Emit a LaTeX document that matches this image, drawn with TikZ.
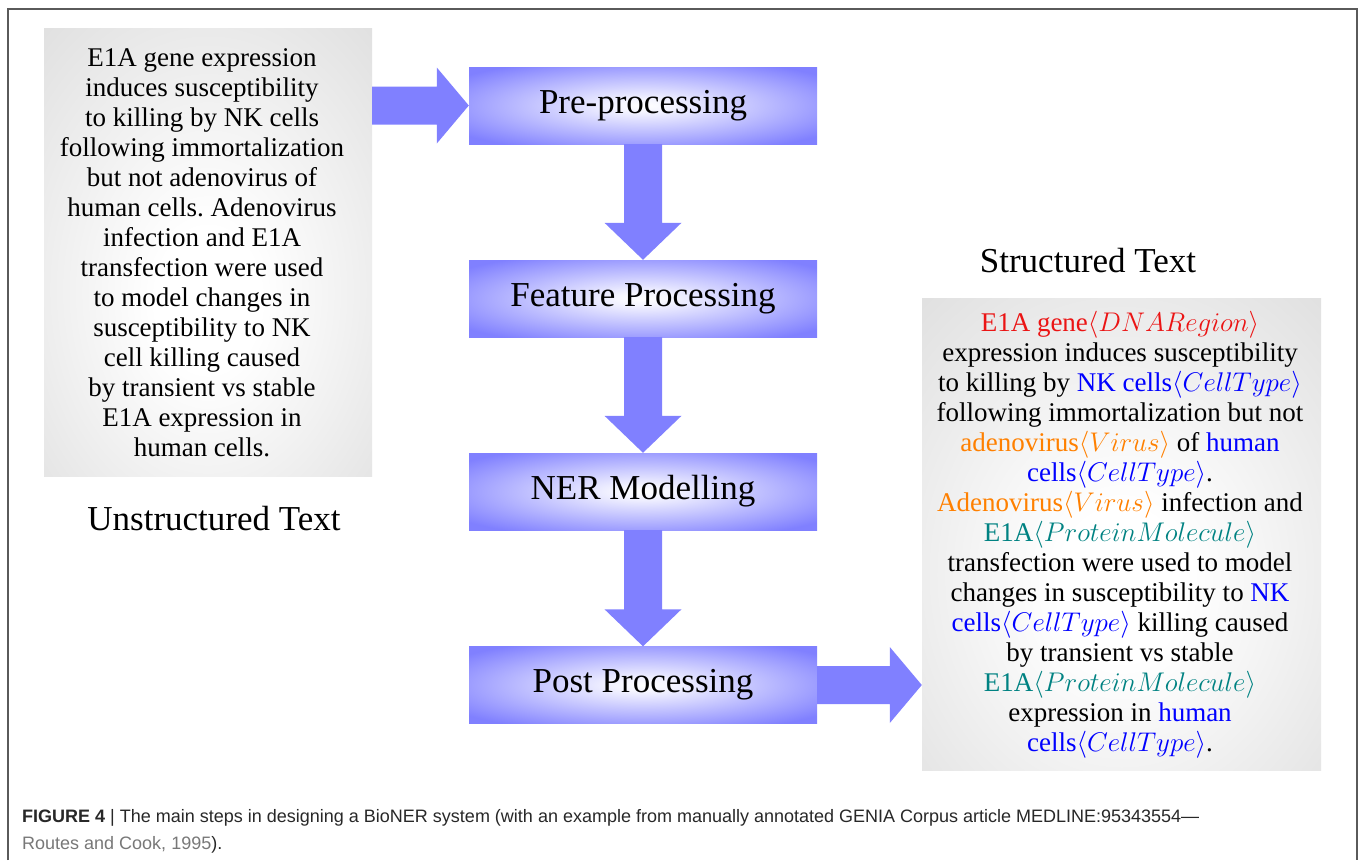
\RequirePackage{fix-cm}
\documentclass[tikz,border=0pt]{standalone}
\usepackage{fontspec}
\setmainfont{Liberation Serif}
\setsansfont{Liberation Sans}
\usetikzlibrary{calc}
\frenchspacing
\definecolor{boxblue}{RGB}{128,128,255}
\definecolor{boxgray}{RGB}{214,214,214}
\definecolor{framegray}{RGB}{90,90,90}
\definecolor{tred}{RGB}{235,20,20}
\definecolor{tblue}{RGB}{0,0,255}
\definecolor{torange}{RGB}{255,128,0}
\definecolor{tteal}{RGB}{0,130,130}
\definecolor{capdark}{RGB}{40,40,40}
\definecolor{caplink}{RGB}{120,120,120}
\pgfdeclareradialshading{blueglow}{\pgfpoint{0bp}{0bp}}{color(0bp)=(white); color(4bp)=(white!92!boxblue); color(32bp)=(boxblue); color(75bp)=(boxblue)}
\pgfdeclareradialshading{grayglow}{\pgfpoint{0bp}{-6bp}}{color(0bp)=(white); color(8bp)=(white); color(48bp)=(boxgray); color(80bp)=(boxgray)}
\newcommand\vflow[2]{%
  \fill[boxblue] ($(#1.south)+(-19,0)$) -- ($(#1.south)+(19,0)$) -- ($(#2.north)+(19,-37)$) -- ($(#2.north)+(38.5,-37)$) -- (#2.north) -- ($(#2.north)+(-38.5,-37)$) -- ($(#2.north)+(-19,-37)$) -- cycle;}
\newcommand\hflow[2]{% #1 start point, #2 tip point
  \fill[boxblue] ($(#1)+(0,-19)$) -- ($(#2)+(-32,-19)$) -- ($(#2)+(-32,-38)$) -- (#2) -- ($(#2)+(-32,38)$) -- ($(#2)+(-32,19)$) -- ($(#1)+(0,19)$) -- cycle;}
\tikzset{
  stepbox/.style={shading=blueglow, minimum width=348pt, minimum height=77pt, inner sep=0pt, font=\fontsize{35}{40}\selectfont},
  panel/.style={shading=grayglow, inner sep=0pt},
  textblock/.style={inner sep=0pt, align=center, font=\fontsize{27}{30}\selectfont},
  biglabel/.style={font=\fontsize{35}{40}\selectfont, inner sep=0pt},
  caption/.style={font=\sffamily\fontsize{18}{20}\selectfont, inner sep=0pt, anchor=base west}
}
\begin{document}
\begin{tikzpicture}[x=1pt,y=-1pt]
\useasboundingbox[fill=white] (0,0) rectangle (1358,860);
\draw[framegray, line width=1.5pt] (8,860) -- (8,9) -- (1357,9) -- (1357,860);

\node[panel, minimum width=328pt, minimum height=448pt] (lbox) at (208,252) {};
\node[textblock] (ltext) at (202,253) {E1A gene expression\\induces susceptibility\\to killing by NK cells\\following immortalization\\but not adenovirus of\\human cells. Adenovirus\\infection and E1A\\transfection were used\\to model changes in\\susceptibility to NK\\cell killing caused\\by transient vs stable\\E1A expression in\\human cells.};
\node[biglabel] (ulabel) at (214,519) {Unstructured Text};

\node[stepbox] (pre) at (643,105.5) {Pre-processing};
\node[stepbox] (feat) at (643,298.5) {Feature Processing};
\node[stepbox] (ner) at (643,491.5) {NER Modelling};
\node[stepbox] (post) at (643,685) {Post Processing};

\node[panel, minimum width=399pt, minimum height=472pt] (rbox) at (1121.5,534) {};
\node[textblock] (rtext) at (1120,535) {%
\textcolor{tred}{E1A gene$\langle DNARegion\rangle$}\\
expression induces susceptibility\\
to killing by \textcolor{tblue}{NK cells$\langle CellType\rangle$}\\
following immortalization but not\\
\textcolor{torange}{adenovirus$\langle Virus\rangle$} of \textcolor{tblue}{human}\\
\textcolor{tblue}{cells$\langle CellType\rangle$}.\\
\textcolor{torange}{Adenovirus$\langle Virus\rangle$} infection and\\
\textcolor{tteal}{E1A$\langle ProteinMolecule\rangle$}\\
transfection were used to model\\
changes in susceptibility to \textcolor{tblue}{NK}\\
\textcolor{tblue}{cells$\langle CellType\rangle$} killing caused\\
by transient vs stable\\
\textcolor{tteal}{E1A$\langle ProteinMolecule\rangle$}\\
expression in \textcolor{tblue}{human}\\
\textcolor{tblue}{cells$\langle CellType\rangle$}.};
\node[biglabel] (slabel) at (1088,261) {Structured Text};

\coordinate (inStart) at (pre.west -| lbox.east);
\hflow{inStart}{pre.west}
\vflow{pre}{feat}
\vflow{feat}{ner}
\vflow{ner}{post}
\coordinate (outTip) at (post.east -| rbox.west);
\hflow{post.east}{outTip}

\node[caption, text=capdark] (cap1) at (22,822) {\textbf{FIGURE 4} | The main steps in designing a BioNER system (with an example from manually annotated GENIA Corpus article MEDLINE:95343554—};
\node[caption] (cap2) at (22,849) {\textcolor{caplink}{Routes and Cook, 1995}\textcolor{capdark}{).}};
\end{tikzpicture}
\end{document}
